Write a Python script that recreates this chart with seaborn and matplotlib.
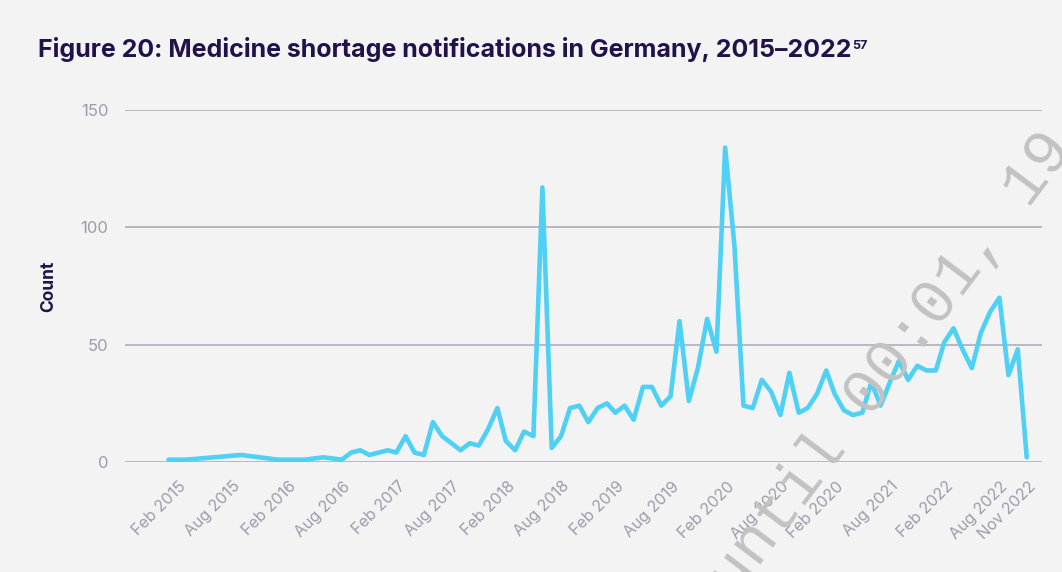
import pandas as pd
import matplotlib.pyplot as plt
import matplotlib.transforms as mtransforms
import seaborn as sns

# avisos de escasez por mes (los primeros años sólo tienen algunos meses con datos)
meses = [
    "2015-02", "2015-04", "2015-10", "2016-02", "2016-05", "2016-07", "2016-09",
    "2016-10", "2016-11", "2016-12",
    "2017-01", "2017-02", "2017-03", "2017-04", "2017-05", "2017-06",
    "2017-07", "2017-08", "2017-09", "2017-10", "2017-11", "2017-12",
    "2018-01", "2018-02", "2018-03", "2018-04", "2018-05", "2018-06",
    "2018-07", "2018-08", "2018-09", "2018-10", "2018-11", "2018-12",
    "2019-01", "2019-02", "2019-03", "2019-04", "2019-05", "2019-06",
    "2019-07", "2019-08", "2019-09", "2019-10", "2019-11", "2019-12",
    "2020-01", "2020-02", "2020-03", "2020-04", "2020-05", "2020-06",
    "2020-07", "2020-08", "2020-09", "2020-10", "2020-11", "2020-12",
    "2021-01", "2021-02", "2021-03", "2021-04", "2021-05", "2021-06",
    "2021-07", "2021-08", "2021-09", "2021-10", "2021-11", "2021-12",
    "2022-01", "2022-02", "2022-03", "2022-04", "2022-05", "2022-06",
    "2022-07", "2022-08", "2022-09", "2022-10", "2022-11", "2022-12",
]
avisos = [
    1, 1, 3, 1, 1, 2, 1,
    4, 5, 3,
    4, 5, 4, 11, 4, 3, 17, 11, 8, 5, 8, 7,
    14, 23, 9, 5, 13, 11, 117, 6, 11, 23, 24, 17,
    23, 25, 21, 24, 18, 32, 32, 24, 28, 60, 26, 40,
    61, 47, 134, 92, 24, 23, 35, 30, 20, 38, 21, 23,
    29, 39, 29, 22, 20, 21, 34, 24, 34, 43, 35, 41,
    39, 39, 51, 57, 48, 40, 55, 64, 70, 37, 48, 2,
]

# etiquetas del eje x tal cual aparecen (incluida la errata "Feb 2020")
ticks_fechas = ["2015-02", "2015-08", "2016-02", "2016-08", "2017-02", "2017-08",
                "2018-02", "2018-08", "2019-02", "2019-08", "2020-02", "2020-08",
                "2021-02", "2021-08", "2022-02", "2022-08", "2022-11"]
ticks_textos = ["Feb 2015", "Aug 2015", "Feb 2016", "Aug 2016", "Feb 2017", "Aug 2017",
                "Feb 2018", "Aug 2018", "Feb 2019", "Aug 2019", "Feb 2020", "Aug 2020",
                "Feb 2020", "Aug 2021", "Feb 2022", "Aug 2022", "Nov 2022"]
valores_y = [0, 50, 100, 150]

df = pd.DataFrame({"fecha": pd.to_datetime(meses), "avisos": avisos})

FONDO = "#f3f3f3"
OSCURO = "#22124a"
GRIS = "#9d9cad"
CIAN = "#4fd0f5"

sns.set_style("white")
plt.rcParams["font.family"] = ["Inter", "DejaVu Sans"]

fig = plt.figure(figsize=(10.62, 5.72), dpi=100, facecolor=FONDO)
ax = fig.add_axes([0.1177, 0.1923, 0.8635, 0.6154])
ax.set_facecolor(FONDO)

sns.lineplot(data=df, x="fecha", y="avisos", color=CIAN, linewidth=3.3, ax=ax)
for linea in ax.lines:
    linea.set_clip_on(False)
    linea.set_solid_joinstyle("round")

ax.set_xlim(pd.Timestamp("2014-09-09"), pd.Timestamp("2023-01-21"))
ax.set_ylim(0, 150)
ax.set_yticks(valores_y)
ax.set_xticks(pd.to_datetime(ticks_fechas))
ax.set_xticklabels(ticks_textos)

ax.grid(axis="y", color="#a8a7b6", linewidth=1.1)
ax.grid(axis="x", visible=False)
sns.despine(ax=ax, left=True, bottom=True)

ax.tick_params(axis="y", length=0, pad=12, labelsize=12, labelcolor=GRIS)
ax.tick_params(axis="x", length=0, pad=12, labelsize=11.5, labelcolor=GRIS)

desplazamiento = mtransforms.ScaledTranslation(0.10, 0, fig.dpi_scale_trans)
for etiqueta in ax.get_xticklabels():
    etiqueta.set_rotation(45)
    etiqueta.set_ha("right")
    etiqueta.set_va("top")
    etiqueta.set_rotation_mode("anchor")
    etiqueta.set_transform(etiqueta.get_transform() + desplazamiento)

ax.set_xlabel("")
ax.set_ylabel("Count", fontsize=12.5, fontweight="bold", color=OSCURO)
ax.yaxis.set_label_coords(-0.074, 0.5)

# título con la referencia en superíndice
titulo = fig.text(38 / 1062, 1 - 57 / 572,
                  "Figure 20: Medicine shortage notifications in Germany, 2015\u20132022",
                  fontsize=18, fontweight="bold", color=OSCURO, ha="left", va="baseline")
fig.canvas.draw()
caja = titulo.get_window_extent()
fig.text(caja.x1 / fig.bbox.width + 0.001, 1 - 49 / 572, "57",
         fontsize=9, fontweight="bold", color=OSCURO, ha="left", va="baseline")

# marca de agua diagonal
fig.text(891 / 1062, 1 - 364 / 572, "until 00:01, 19", family="Liberation Mono",
         fontsize=45, color="#c2c2c2", rotation=53, rotation_mode="anchor",
         ha="center", va="center", zorder=10)

fig.savefig("out.png", dpi=100, facecolor=FONDO)
plt.close(fig)
